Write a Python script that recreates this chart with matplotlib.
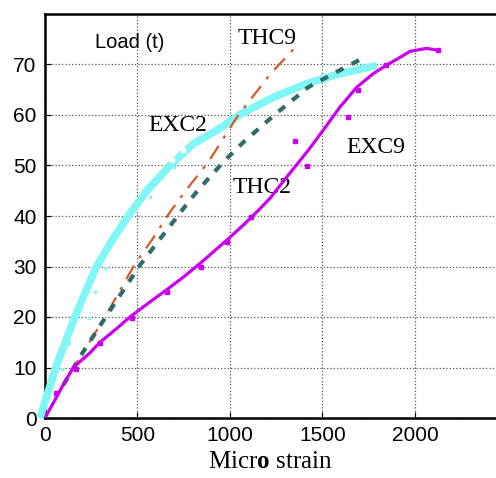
import numpy as np
import matplotlib
matplotlib.use('Agg')
import matplotlib.pyplot as plt

plt.rcParams['mathtext.fontset'] = 'custom'
plt.rcParams['mathtext.rm'] = 'Liberation Serif'
plt.rcParams['mathtext.bf'] = 'Liberation Serif:bold'

# EXC2 fitted curve (cyan)
exc2_x = [-27, 58, 108, 162, 220, 279, 360, 450, 550, 676, 802, 930, 1054, 1234, 1414, 1595, 1793]
exc2_y = [0, 10, 14.8, 20, 25.1, 30, 35, 40, 45, 50, 54.3, 57.0, 60.1, 63.5, 66.2, 68.2, 69.8]
exc2_px = [90, 131, 238, 270, 324, 568, 699]
exc2_py = [9.8, 14.8, 19.8, 24.9, 29.8, 43.8, 49.7]
gap_x = [684, 748]
gap_y = [51.0, 53.0]

# EXC9 fitted curve (magenta) and its points
exc9_x = [0, 54, 108, 153, 243, 297, 387, 459, 568, 658, 748, 838, 910, 982, 1072, 1153, 1216,
          1324, 1423, 1504, 1595, 1685, 1775, 1847, 1919, 1973, 2063, 2126]
exc9_y = [0, 3.6, 7.2, 10, 12.9, 15, 17.7, 20, 23, 25.4, 27.9, 30.6, 32.9, 35.2, 38.2, 41.1, 43.5,
          48.5, 53, 57, 61.6, 65.5, 68.2, 69.9, 71.4, 72.6, 73.2, 72.8]
exc9_px = [58, 168, 297, 472, 658, 843, 982, 1112, 1351, 1418, 1640, 1694, 1841, 2126]
exc9_py = [4.9, 9.8, 14.8, 19.8, 24.9, 29.9, 34.9, 39.9, 54.8, 49.9, 59.7, 64.9, 69.9, 72.8]

# THC9 (orange dash-dot)
thc9_x = [135, 324, 486, 577, 676, 775, 883, 1045, 1225, 1369]
thc9_y = [8.8, 20, 30.5, 35.2, 40.8, 45.7, 50.7, 60, 68.4, 74]

# THC2 (teal dashed)
thc2_x = [99, 189, 328, 514, 631, 757, 820, 964, 1072, 1243, 1423, 1595, 1721]
thc2_y = [6.5, 12.1, 20, 30.3, 35.9, 41.9, 44.8, 50.7, 54.6, 60.1, 65.5, 68.9, 71.3]

fig = plt.figure(figsize=(4.96, 4.78), dpi=100)
ax = fig.add_axes([45/496, 60/478, 451/496, 404/478])

ax.plot(exc2_x, exc2_y, color='#80f6f6', lw=5.5, solid_capstyle='butt',
        solid_joinstyle='round', clip_on=False, zorder=3)
ax.plot(exc2_px, exc2_py, ls='none', marker='s', ms=2, color='#80f6f6', zorder=3)
ax.plot(gap_x, gap_y, ls='none', marker='s', ms=3.5, color='white', zorder=3.5)
ax.plot(thc9_x, thc9_y, color='#d65a24', lw=1.6, dashes=[7, 4, 1.5, 4], zorder=4)
ax.plot(thc2_x, thc2_y, color='#2f6b6b', lw=3, dashes=[2, 2.2], zorder=4)
ax.plot(exc9_x, exc9_y, color='#cc00ee', lw=2.3, solid_joinstyle='round', zorder=5)
ax.plot(exc9_px, exc9_py, ls='none', marker='s', ms=3, color='#cc00ee', zorder=5)

ax.set_xlim(0, 2438)
ax.set_ylim(0, 80)
ax.set_xticks([0, 500, 1000, 1500, 2000])
ax.set_yticks([0, 10, 20, 30, 40, 50, 60, 70])
ax.grid(True, color='#555555', ls=':', lw=0.9)
ax.tick_params(direction='in', length=4, labelsize=15, pad=6)
for lab in ax.get_xticklabels() + ax.get_yticklabels():
    lab.set_family('Liberation Sans')
for s in ['left', 'bottom', 'top']:
    ax.spines[s].set_linewidth(1.8)
ax.spines['right'].set_visible(False)

ax.text(270, 74.4, 'Load (t)', family='Liberation Sans', fontsize=14.5, va='center')
ax.text(1043, 75.1, 'THC9', family='Liberation Serif', fontsize=17, va='center')
ax.text(557, 57.9, 'EXC2', family='Liberation Serif', fontsize=17, va='center')
ax.text(1016, 45.7, 'THC2', family='Liberation Serif', fontsize=17, va='center')
ax.text(1627, 53.6, 'EXC9', family='Liberation Serif', fontsize=17, va='center')
ax.set_xlabel(r'Micr$\mathbf{o}$ strain', family='Liberation Serif', fontsize=18, labelpad=4)

fig.savefig('out.png', dpi=100)
